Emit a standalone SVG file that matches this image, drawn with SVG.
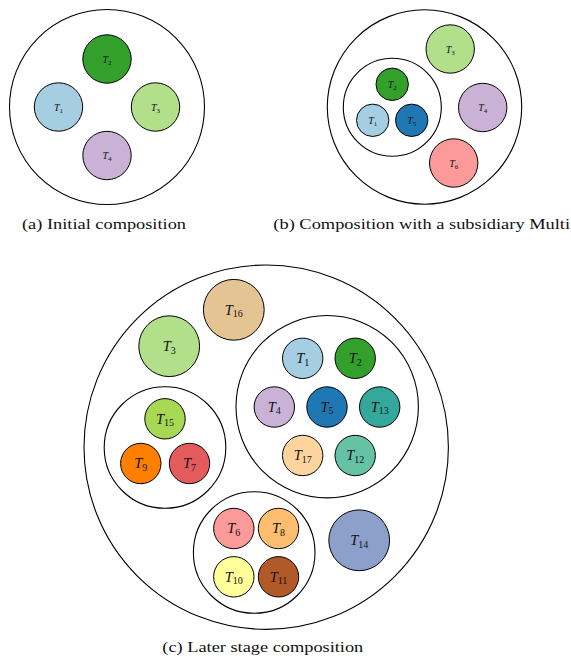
<svg xmlns="http://www.w3.org/2000/svg" width="571" height="662" viewBox="0 0 571 662">
<style>
.c{stroke:#000;stroke-width:1}
.o{fill:none;stroke:#000;stroke-width:1.1}
.s{font-family:"Liberation Serif",serif;font-size:10px;fill:#111;text-anchor:middle}
.l{font-family:"Liberation Serif",serif;font-size:14.5px;fill:#111;text-anchor:middle}
.i{font-style:italic}
.cap{font-family:"Liberation Serif",serif;font-size:15.5px;font-style:normal;fill:#111;text-anchor:middle}
</style>
<rect width="571" height="662" fill="#fff"/>
<!-- (a) -->
<g id="a-multi"><circle class="o" cx="107" cy="107" r="97.5"/></g>
<g id="a-T1"><circle class="c" cx="58.5" cy="107" r="24.2" fill="#a6cee3"/><text class="s" x="58.5" y="110.5"><tspan class="i">T</tspan><tspan font-size="7" dy="2">1</tspan></text></g>
<g id="a-T2"><circle class="c" cx="107" cy="59" r="24.2" fill="#33a02c"/><text class="s" x="107" y="62.5"><tspan class="i">T</tspan><tspan font-size="7" dy="2">2</tspan></text></g>
<g id="a-T3"><circle class="c" cx="155.5" cy="107" r="24.2" fill="#b2df8a"/><text class="s" x="155.5" y="110.5"><tspan class="i">T</tspan><tspan font-size="7" dy="2">3</tspan></text></g>
<g id="a-T4"><circle class="c" cx="107" cy="155.5" r="24.2" fill="#cab2d6"/><text class="s" x="107" y="159"><tspan class="i">T</tspan><tspan font-size="7" dy="2">4</tspan></text></g>
<text class="cap" x="104" y="229" textLength="164" lengthAdjust="spacingAndGlyphs">(a) Initial composition</text>
<!-- (b) -->
<g id="b-multi"><circle class="o" cx="424.5" cy="107" r="97.2"/></g>
<g id="b-sub"><circle class="o" cx="392.3" cy="107.2" r="49"/></g>
<g id="b-T1"><circle class="c" cx="372.7" cy="120.3" r="16.2" fill="#a6cee3"/><text class="s" x="372.7" y="123.5"><tspan class="i">T</tspan><tspan font-size="7" dy="2">1</tspan></text></g>
<g id="b-T2"><circle class="c" cx="392.2" cy="84.3" r="16.2" fill="#33a02c"/><text class="s" x="392.2" y="87.5"><tspan class="i">T</tspan><tspan font-size="7" dy="2">2</tspan></text></g>
<g id="b-T5"><circle class="c" cx="411.7" cy="120.3" r="16.2" fill="#1f78b4"/><text class="s" x="411.7" y="123.5"><tspan class="i">T</tspan><tspan font-size="7" dy="2">5</tspan></text></g>
<g id="b-T3"><circle class="c" cx="450.2" cy="49" r="24.2" fill="#b2df8a"/><text class="s" x="450.2" y="52.5"><tspan class="i">T</tspan><tspan font-size="7" dy="2">3</tspan></text></g>
<g id="b-T4"><circle class="c" cx="482.7" cy="107.5" r="24.2" fill="#cab2d6"/><text class="s" x="482.7" y="111"><tspan class="i">T</tspan><tspan font-size="7" dy="2">4</tspan></text></g>
<g id="b-T6"><circle class="c" cx="453.7" cy="163" r="24.2" fill="#fb9a99"/><text class="s" x="453.7" y="166.5"><tspan class="i">T</tspan><tspan font-size="7" dy="2">6</tspan></text></g>
<text class="cap" x="421.7" y="229" textLength="296.7" lengthAdjust="spacingAndGlyphs">(b) Composition with a subsidiary Multi</text>
<!-- (c) -->
<g id="c-multi"><circle class="o" cx="266.2" cy="447.2" r="182.2"/></g>
<g id="c-T16"><circle class="c" cx="233.8" cy="309.8" r="30.4" fill="#e5c494"/><text class="l" x="233.8" y="314.5"><tspan class="i">T</tspan><tspan font-size="10" dy="2.5">16</tspan></text></g>
<g id="c-T3"><circle class="c" cx="169.2" cy="346.2" r="30.4" fill="#b2df8a"/><text class="l" x="169.2" y="351"><tspan class="i">T</tspan><tspan font-size="10" dy="2.5">3</tspan></text></g>
<g id="c-T14"><circle class="c" cx="359.2" cy="540.3" r="30.4" fill="#8da0cb"/><text class="l" x="359.2" y="545"><tspan class="i">T</tspan><tspan font-size="10" dy="2.5">14</tspan></text></g>
<g id="c-subA"><circle class="o" cx="327.2" cy="406.7" r="91.2"/></g>
<g id="c-T1"><circle class="c" cx="302.7" cy="358.3" r="20.2" fill="#a6cee3"/><text class="l" x="302.7" y="363"><tspan class="i">T</tspan><tspan font-size="10" dy="2.5">1</tspan></text></g>
<g id="c-T2"><circle class="c" cx="355.2" cy="358.3" r="20.2" fill="#33a02c"/><text class="l" x="355.2" y="363"><tspan class="i">T</tspan><tspan font-size="10" dy="2.5">2</tspan></text></g>
<g id="c-T4"><circle class="c" cx="274.3" cy="407" r="20.2" fill="#cab2d6"/><text class="l" x="274.3" y="411.7"><tspan class="i">T</tspan><tspan font-size="10" dy="2.5">4</tspan></text></g>
<g id="c-T5"><circle class="c" cx="327" cy="407" r="20.2" fill="#1f78b4"/><text class="l" x="327" y="411.7"><tspan class="i">T</tspan><tspan font-size="10" dy="2.5">5</tspan></text></g>
<g id="c-T13"><circle class="c" cx="379.7" cy="407" r="20.2" fill="#35a89e"/><text class="l" x="379.7" y="411.7"><tspan class="i">T</tspan><tspan font-size="10" dy="2.5">13</tspan></text></g>
<g id="c-T17"><circle class="c" cx="302.7" cy="455.5" r="20.2" fill="#fed49e"/><text class="l" x="302.7" y="460.2"><tspan class="i">T</tspan><tspan font-size="10" dy="2.5">17</tspan></text></g>
<g id="c-T12"><circle class="c" cx="355.2" cy="455.5" r="20.2" fill="#66c2a5"/><text class="l" x="355.2" y="460.2"><tspan class="i">T</tspan><tspan font-size="10" dy="2.5">12</tspan></text></g>
<g id="c-subB"><circle class="o" cx="165" cy="447.5" r="60.8"/></g>
<g id="c-T15"><circle class="c" cx="165" cy="418.8" r="20.2" fill="#a6d854"/><text class="l" x="165" y="423.5"><tspan class="i">T</tspan><tspan font-size="10" dy="2.5">15</tspan></text></g>
<g id="c-T9"><circle class="c" cx="140.8" cy="463.5" r="20.2" fill="#ff7f00"/><text class="l" x="140.8" y="468.2"><tspan class="i">T</tspan><tspan font-size="10" dy="2.5">9</tspan></text></g>
<g id="c-T7"><circle class="c" cx="189.5" cy="463.5" r="20.2" fill="#e35b5c"/><text class="l" x="189.5" y="468.2"><tspan class="i">T</tspan><tspan font-size="10" dy="2.5">7</tspan></text></g>
<g id="c-subC"><circle class="o" cx="254.2" cy="552.5" r="60.8"/></g>
<g id="c-T6"><circle class="c" cx="233.8" cy="528.5" r="20.2" fill="#fb9a99"/><text class="l" x="233.8" y="533.2"><tspan class="i">T</tspan><tspan font-size="10" dy="2.5">6</tspan></text></g>
<g id="c-T8"><circle class="c" cx="278.5" cy="528.5" r="20.2" fill="#fdbf6f"/><text class="l" x="278.5" y="533.2"><tspan class="i">T</tspan><tspan font-size="10" dy="2.5">8</tspan></text></g>
<g id="c-T10"><circle class="c" cx="233.8" cy="576.8" r="20.2" fill="#ffff99"/><text class="l" x="233.8" y="581.5"><tspan class="i">T</tspan><tspan font-size="10" dy="2.5">10</tspan></text></g>
<g id="c-T11"><circle class="c" cx="278.5" cy="576.8" r="20.2" fill="#b15928"/><text class="l" x="278.5" y="581.5"><tspan class="i">T</tspan><tspan font-size="10" dy="2.5">11</tspan></text></g>
<text class="cap" x="262.8" y="652" textLength="201" lengthAdjust="spacingAndGlyphs">(c) Later stage composition</text>
<g id="connectors"/>
</svg>
